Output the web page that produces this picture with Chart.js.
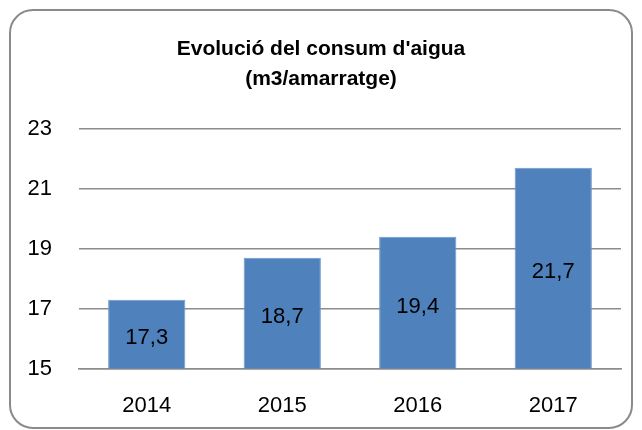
<!DOCTYPE html>
<html>
<head>
<meta charset="utf-8">
<script src="https://cdn.jsdelivr.net/npm/chart.js@4"></script>
<style>
  html, body { margin: 0; padding: 0; background: #fff; overflow: hidden; }
  #frame {
    position: absolute; left: 9px; top: 9px; width: 620px; height: 416px;
    border: 2px solid #8a8a8a; border-radius: 24px; background: #fff;
  }
  #wrap { position: absolute; left: 0; top: 0; width: 642px; height: 430px; overflow: hidden; }
</style>
</head>
<body>
<div id="frame"></div>
<div id="wrap"><canvas id="chart" width="642" height="435"></canvas></div>
<script>
// Chart data
const years = ["2014", "2015", "2016", "2017"];
const consum = [17.3, 18.7, 19.4, 21.7];
const titleLines = ["Evolució del consum d'aigua", "(m3/amarratge)"];

const FONT = "'Liberation Sans', Arial, sans-serif";

// Value labels centred in each bar
const barLabels = {
    id: "barLabels",
    afterDraw(chart) {
        const ctx = chart.ctx;
        const yScale = chart.scales.y;
        const xScale = chart.scales.x;
        const base = yScale.getPixelForValue(yScale.min);
        ctx.save();
        ctx.font = "22px " + FONT;
        ctx.fillStyle = "#000";
        ctx.textAlign = "center";
        ctx.textBaseline = "middle";
        consum.forEach((v, i) => {
            const x = xScale.getPixelForValue(i);
            const y = (yScale.getPixelForValue(v) + base) / 2;
            ctx.fillText(v.toFixed(1).replace(".", ","), x, y + 4);
        });
        ctx.restore();
    }
};

new Chart(document.getElementById("chart"), {
    type: "bar",
    data: {
        labels: years,
        datasets: [{
            data: consum,
            backgroundColor: "#4f81bd",
            borderColor: "#6f98cc",
            borderWidth: 1,
            barPercentage: 0.57,
            categoryPercentage: 1
        }]
    },
    options: {
        responsive: false,
        animation: false,
        layout: { padding: { left: 21, right: 21, top: 34, bottom: 0 } },
        plugins: {
            legend: { display: false },
            tooltip: { enabled: false },
            title: {
                display: true,
                text: titleLines,
                color: "#000",
                font: { family: FONT, size: 21, weight: "bold", lineHeight: 1.45 },
                padding: { top: 0, bottom: 34 }
            }
        },
        scales: {
            y: {
                min: 15,
                max: 23,
                afterFit(scale) { scale.width = 58; },
                ticks: { stepSize: 2, color: "#000", font: { family: FONT, size: 22 }, padding: 27 },
                grid: { color: "#8c8c8c", lineWidth: 1.5, drawTicks: false },
                border: { display: false }
            },
            x: {
                ticks: { color: "#000", font: { family: FONT, size: 22 }, padding: 16 },
                grid: { display: false },
                border: { color: "#8c8c8c", width: 1.5 }
            }
        }
    },
    plugins: [barLabels]
});
</script>
</body>
</html>
